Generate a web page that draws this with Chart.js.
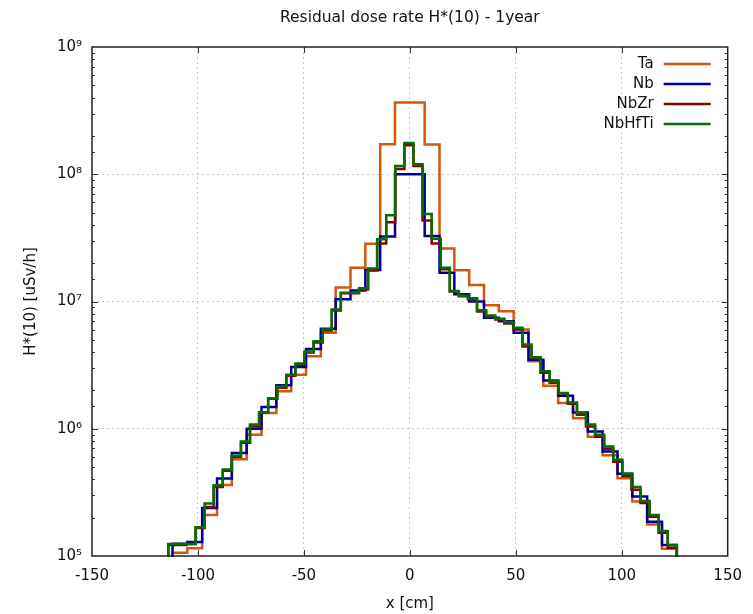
<!DOCTYPE html>
<html><head><meta charset="utf-8">
<script src="https://cdn.jsdelivr.net/npm/chart.js@4/dist/chart.umd.min.js"></script>
<style>html,body{margin:0;padding:0;background:#fff;}</style>
</head><body>
<canvas id="c" width="753" height="614"></canvas>
<script>
// ---- data ----
const chartTitle = 'Residual dose rate H*(10) - 1year';
const xTitle = 'x [cm]';
const yTitle = 'H*(10) [uSv/h]';
const seriesNames = ['Ta', 'Nb', 'NbZr', 'NbHfTi'];

// bin edges [cm]
const coarseEdges = [-112,-105,-98,-91,-84,-77,-70,-63,-56,-49,-42,-35,-28,-21,-14,-7,0,7,14,21,28,35,42,49,56,63,70,77,84,91,98,105,112,119,126];
const fineEdges = [-114.00,-109.71,-105.43,-101.14,-96.86,-92.57,-88.29,-84.00,-79.71,-75.43,-71.14,-66.86,-62.57,-58.29,-54.00,-49.71,-45.43,-41.14,-36.86,-32.57,-28.29,-24.00,-19.71,-15.43,-11.14,-6.86,-2.57,1.71,6.00,10.29,14.57,18.86,23.14,27.43,31.71,36.00,40.29,44.57,48.86,53.14,57.43,61.71,66.00,70.29,74.57,78.86,83.14,87.43,91.71,96.00,100.29,104.57,108.86,113.14,117.43,121.71,126.00];

// dose rate per bin [uSv/h]
const taValues = [1.06e5,1.15e5,2.10e5,3.62e5,5.77e5,8.97e5,1.33e6,1.97e6,2.66e6,3.71e6,5.67e6,1.29e7,1.84e7,2.84e7,1.72e8,3.66e8,3.66e8,1.71e8,2.61e7,1.76e7,1.35e7,9.35e6,8.39e6,6.02e6,3.39e6,2.18e6,1.59e6,1.21e6,8.65e5,6.18e5,4.09e5,2.68e5,1.77e5,1.14e5];
const nbValues = [1.25e5,1.29e5,2.38e5,4.06e5,6.44e5,1.00e6,1.48e6,2.20e6,3.06e6,4.24e6,6.10e6,1.04e7,1.22e7,1.77e7,3.24e7,1.00e8,1.00e8,3.27e7,1.68e7,1.14e7,1.00e7,7.44e6,7.00e6,5.67e6,3.49e6,2.39e6,1.82e6,1.34e6,9.52e5,6.63e5,4.42e5,2.93e5,1.86e5,1.22e5];
const nbzrValues = [1.22e5,1.22e5,1.24e5,1.66e5,2.43e5,3.49e5,4.67e5,6.02e5,7.76e5,1.04e6,1.34e6,1.72e6,2.10e6,2.61e6,3.19e6,3.97e6,4.76e6,5.91e6,8.49e6,1.16e7,1.16e7,1.24e7,1.75e7,2.86e7,4.19e7,1.10e8,1.69e8,1.16e8,4.34e7,2.86e7,1.79e7,1.20e7,1.10e7,1.04e7,8.34e6,7.62e6,7.22e6,6.71e6,6.02e6,4.42e6,3.56e6,2.76e6,2.30e6,1.89e6,1.57e6,1.29e6,1.04e6,8.65e5,6.96e5,5.50e5,4.26e5,3.31e5,2.61e5,2.03e5,1.52e5,1.16e5];
const nbhftiValues = [1.24e5,1.24e5,1.24e5,1.68e5,2.58e5,3.59e5,4.78e5,6.13e5,7.94e5,1.08e6,1.35e6,1.74e6,2.15e6,2.66e6,3.25e6,4.04e6,4.87e6,6.02e6,8.65e6,1.17e7,1.17e7,1.27e7,1.82e7,3.08e7,4.77e7,1.16e8,1.76e8,1.20e8,4.87e7,3.11e7,1.84e7,1.21e7,1.11e7,1.06e7,8.54e6,7.76e6,7.31e6,6.90e6,6.21e6,4.59e6,3.64e6,2.83e6,2.36e6,1.91e6,1.61e6,1.33e6,1.08e6,8.97e5,7.25e5,5.70e5,4.42e5,3.49e5,2.71e5,2.10e5,1.57e5,1.22e5];

const xTicks = [-150,-100,-50,0,50,100,150];
const yMin = 1e5, yMax = 1e9;

// ---- styles ----
const FONT = 'DejaVu Sans';
const TEXT = '#111111';
const colors = ['#d4560a', '#000099', '#8b0000', '#007000'];
const SUP = ['\u2070','\u00b9','\u00b2','\u00b3','\u2074','\u2075','\u2076','\u2077','\u2078','\u2079'];

function steps(edges, values) {
  const floor = 1e3; // drop to below the axis at both ends
  const pts = [{x: edges[0], y: floor}];
  values.forEach((v, i) => pts.push({x: edges[i], y: v}));
  pts.push({x: edges[values.length], y: values[values.length - 1]});
  pts.push({x: edges[values.length], y: floor});
  return pts;
}
const seriesData = [
  steps(coarseEdges, taValues),
  steps(coarseEdges, nbValues),
  steps(fineEdges, nbzrValues),
  steps(fineEdges, nbhftiValues)
];

function isDecade(v) { const e = Math.log10(v); return Math.abs(e - Math.round(e)) < 1e-6; }

const framePlugin = {
  id: 'frame',
  afterDatasetsDraw(chart) {
    const {ctx, chartArea: a, scales: {x, y}} = chart;
    ctx.save();
    ctx.strokeStyle = '#333';
    ctx.lineWidth = 1;
    ctx.beginPath();
    x.ticks.forEach(t => {
      if (t.value <= x.min || t.value >= x.max) return;
      const px = Math.round(x.getPixelForValue(t.value)) + 0.5;
      ctx.moveTo(px, a.bottom); ctx.lineTo(px, a.bottom - 6);
      ctx.moveTo(px, a.top); ctx.lineTo(px, a.top + 6);
    });
    y.ticks.forEach(t => {
      if (t.value <= y.min || t.value >= y.max) return;
      const py = Math.round(y.getPixelForValue(t.value)) + 0.5;
      const len = isDecade(t.value) ? 6 : 3;
      ctx.moveTo(a.left, py); ctx.lineTo(a.left + len, py);
      ctx.moveTo(a.right, py); ctx.lineTo(a.right - len, py);
    });
    ctx.stroke();
    ctx.strokeStyle = '#222';
    ctx.lineWidth = 1.5;
    ctx.strokeRect(a.left, a.top, a.right - a.left, a.bottom - a.top);
    // title, centred over the plot area
    ctx.fillStyle = TEXT;
    ctx.font = '15.5px "' + FONT + '"';
    ctx.textAlign = 'center';
    ctx.textBaseline = 'middle';
    ctx.fillText(chartTitle, (a.left + a.right) / 2, a.top - 29);
    // legend (gnuplot style: text, then line sample)
    ctx.font = '15px "' + FONT + '"';
    ctx.textAlign = 'right';
    seriesNames.forEach((name, i) => {
      const ry = a.top + 17 + 20 * i;
      ctx.fillStyle = TEXT;
      ctx.fillText(name, a.right - 74, ry);
      ctx.strokeStyle = colors[i];
      ctx.lineWidth = 2.5;
      ctx.beginPath();
      ctx.moveTo(a.right - 64, ry); ctx.lineTo(a.right - 17, ry);
      ctx.stroke();
    });
    ctx.restore();
  }
};

const gridColor = '#c8c8c8';
new Chart(document.getElementById('c'), {
  type: 'line',
  data: {
    datasets: seriesNames.map((name, i) => ({
      label: name,
      data: seriesData[i],
      borderColor: colors[i],
      backgroundColor: colors[i],
      borderWidth: 2.5,
      pointRadius: 0,
      fill: false,
      stepped: 'before',
      tension: 0,
      clip: 1,
      order: 3 - i
    }))
  },
  options: {
    responsive: false,
    animation: false,
    events: [],
    layout: {padding: {left: 0, right: 25, top: 47, bottom: 0}},
    plugins: {
      legend: {display: false},
      tooltip: {enabled: false},
      title: {display: false}
    },
    scales: {
      x: {
        type: 'linear', min: xTicks[0], max: xTicks[xTicks.length - 1],
        afterBuildTicks: s => { s.ticks = xTicks.map(v => ({value: v})); },
        ticks: {color: TEXT, font: {family: FONT, size: 15}, padding: 11, maxRotation: 0, autoSkip: false},
        grid: {color: c => (c.tick && c.tick.value > -150 && c.tick.value < 150) ? gridColor : 'rgba(0,0,0,0)', drawTicks: false, lineWidth: 1},
        border: {display: false, dash: [2, 3]},
        title: {display: true, text: xTitle, color: TEXT, font: {family: FONT, size: 15}, padding: {top: 0, bottom: 1}},
        afterFit: s => { s.height = 58; }
      },
      y: {
        type: 'logarithmic', min: yMin, max: yMax,
        ticks: {color: TEXT, font: {family: FONT, size: 15}, padding: 10, autoSkip: false,
          callback: v => isDecade(v) ? '10' + SUP[Math.round(Math.log10(v))] : ''},
        grid: {color: c => (c.tick && isDecade(c.tick.value) && c.tick.value > yMin && c.tick.value < yMax) ? gridColor : 'rgba(0,0,0,0)', drawTicks: false, lineWidth: 1},
        border: {display: false, dash: [2, 3]},
        title: {display: true, text: yTitle, color: TEXT, font: {family: FONT, size: 15}, padding: {top: 22, bottom: 0}},
        afterFit: s => { s.width = 92; }
      }
    }
  },
  plugins: [framePlugin]
});
</script>
</body></html>
